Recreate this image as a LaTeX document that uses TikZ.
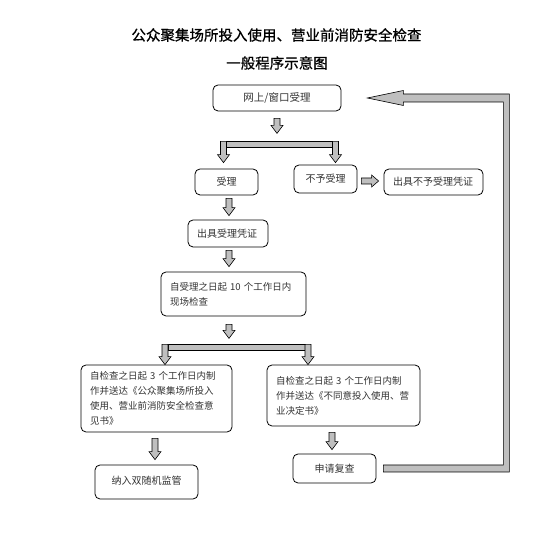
\documentclass[tikz,border=0pt]{standalone}
\usepackage{fontspec}
\setmainfont{Noto Sans CJK SC}
\newfontfamily\titlefont{Noto Sans CJK SC}[BoldFont={Noto Sans CJK SC}, BoldFeatures={FakeBold=0.6}]
\usetikzlibrary{calc}

\newcommand{\blockdown}[2]{\path[blk] let \p1=(#1), \p2=(#2) in
    (\x1-3pt,\y1) -- (\x1+3pt,\y1) -- (\x1+3pt,\y2+8pt) -- (\x1+6pt,\y2+8pt) -- (\x1,\y2)
    -- (\x1-6pt,\y2+8pt) -- (\x1-3pt,\y2+8pt) -- cycle;}
\newcommand{\blockright}[2]{\path[blk] let \p1=(#1), \p2=(#2) in
    (\x1,\y1-3pt) -- (\x2-7pt,\y1-3pt) -- (\x2-7pt,\y1-6pt) -- (\x2,\y1)
    -- (\x2-7pt,\y1+6pt) -- (\x2-7pt,\y1+3pt) -- (\x1,\y1+3pt) -- cycle;}

\begin{document}
\begin{tikzpicture}[
        x=1pt, y=1pt,
        box/.style={rectangle, rounded corners=5pt, draw=black, line width=0.8pt, text=black!80, font=\fontsize{10}{12}\selectfont},
        lbox/.style={box, align=left, inner xsep=9pt},
        multi/.style={font=\fontsize{9.5}{15}\selectfont},
        blk/.style={fill=black!25, draw=black, line width=0.6pt},
        heading/.style={font=\titlefont\bfseries\fontsize{14.5}{17}\selectfont},
    ]
        \fill[white] (0,0) rectangle (553,537);
        \useasboundingbox (0,0) rectangle (553,537);
        \node[heading] (title) at (276.5,502) {公众聚集场所投入使用、营业前消防安全检查};
        \node[heading] (subtitle) at (277,474) {一般程序示意图};
        \node[box, minimum width=128pt, minimum height=26pt, font=\fontsize{10.5}{12}\selectfont] (web) at (277,439) {网上/窗口受理};
        \node[box, minimum width=63pt, minimum height=26pt] (acc) at (226.5,355) {受理};
        \node[box, minimum width=63pt, minimum height=28pt] (rej) at (325.5,358) {不予受理};
        \node[lbox, text width=81pt, minimum height=26pt] (rejcert) at (433.5,355) {出具不予受理凭证};
        \node[lbox, text width=62pt, minimum height=27pt] (acccert) at (228,303.5) {出具受理凭证};
        \node[lbox, multi, text width=127pt, minimum height=44pt] (check) at (233.5,243) {自受理之日起 10 个工作日内\\现场检查};
        \node[lbox, multi, text width=133pt, minimum height=67pt] (pass) at (156.5,138.5) {自检查之日起 3 个工作日内制\\作并送达《公众聚集场所投入\\使用、营业前消防安全检查意\\见书》};
        \node[lbox, multi, text width=135pt, minimum height=61pt] (fail) at (343.5,141.5) {自检查之日起 3 个工作日内制\\作并送达《不同意投入使用、营\\业决定书》};
        \node[box, minimum width=103pt, minimum height=34pt] (sup) at (146.5,55) {\raisebox{4pt}{纳入双随机监管}};
        \node[box, minimum width=83pt, minimum height=29pt] (review) at (334.5,68.5) {申请复查};
        \coordinate (br1) at ($(web.south)+(0,-30)$);
        \coordinate (br2) at ($(check.south)+(0,-28)$);
        \coordinate (loop) at ($(rejcert.east)+(26,0)$);
        \blockdown{$(web.south)+(0,-7)$}{$(web.south)+(0,-22)$}
        \path[blk] ($(br1 -| acc.north)+(0,0)$) rectangle ($(br1 -| rej.north)+(7,-6)$);
        \blockdown{$(br1 -| acc.north)+(-3,0)$}{$(acc.north)+(-3,6)$}
        \blockdown{$(br1 -| rej.north)+(10,0)$}{$(rej.north)+(10,2)$}
        \blockright{$(rej.east)+(4,-2)$}{$(rejcert.west)+(-5,0)$}
        \blockdown{$(acc.south)+(2.5,-3)$}{$(acccert.north)+(1,4)$}
        \blockdown{$(acccert.south)+(1,-3)$}{$(check.north)+(-4.5,5)$}
        \blockdown{$(check.south)+(-4.5,-8)$}{$(check.south)+(-4.5,-22)$}
        \path[blk] ($(br2 -| pass.north)+(11.5,0)$) rectangle ($(br2 -| fail.north)+(-38.5,-6)$);
        \blockdown{$(br2 -| pass.north)+(8.5,0)$}{$(pass.north)+(8.5,0)$}
        \blockdown{$(br2 -| fail.north)+(-35.5,0)$}{$(fail.north)+(-35.5,0)$}
        \blockdown{$(pass.south)+(-1.5,-6)$}{$(sup.north)+(0,5)$}
        \blockdown{$(fail.south)+(-11.5,-6)$}{$(review.north)+(0,4)$}
        \path[blk] let \p1=($(review.east)+(7,0)$), \p2=($(web.east)+(26,0)$), \p3=(loop) in
            (\x1,\y1+3.5pt) -- (\x3-6pt,\y1+3.5pt) -- (\x3-6pt,\y2-4pt) -- (\x2+36pt,\y2-4pt)
            -- (\x2+36pt,\y2-7.5pt) -- (\x2,\y2) -- (\x2+36pt,\y2+7.5pt) -- (\x2+36pt,\y2+4pt)
            -- (\x3,\y2+4pt) -- (\x3,\y1-3.5pt) -- (\x1,\y1-3.5pt) -- cycle;
    \end{tikzpicture}
\end{document}
